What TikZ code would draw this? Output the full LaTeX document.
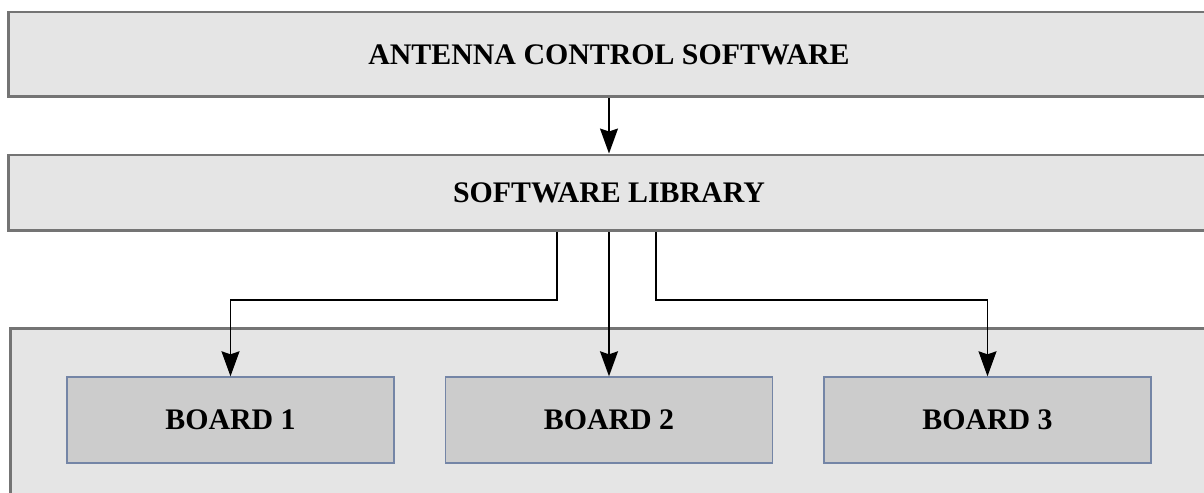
\documentclass[tikz,border=0pt]{standalone}
\usepackage{fontspec}
\setmainfont{Liberation Serif}
\usetikzlibrary{arrows.meta}

\definecolor{panelgray}{HTML}{E5E5E5}
\definecolor{edgegray}{HTML}{747474}
\definecolor{boardgray}{HTML}{CCCCCC}
\definecolor{boardedge}{HTML}{7485A6}

\tikzset{
  layer/.style={draw=edgegray, fill=panelgray, line width=1.7pt, inner sep=0pt,
    minimum width=24.04cm, font=\bfseries\fontsize{17}{20}\selectfont},
  board/.style={draw=boardedge, fill=boardgray, line width=0.8pt, inner sep=0pt,
    minimum width=6.54cm, minimum height=1.72cm, font=\bfseries\fontsize{17}{20}\selectfont},
  arr/.style={-{Stealth[length=0.5cm,width=0.36cm,inset=0.06cm]}, line width=0.8pt, black}
}

\begin{document}
\begin{tikzpicture}[x=0.02cm, y=-0.02cm]
                \useasboundingbox (0,0) rectangle (1204,493);

                \node[layer, minimum height=1.7cm] (acs) at (609,54.5) {ANTENNA CONTROL SOFTWARE};
                \node[layer, minimum height=1.52cm] (lib) at (609,193) {SOFTWARE LIBRARY};
                \node[layer, minimum width=24.2cm, minimum height=4cm] (rack) at (615,428) {};

                \node[board] (b1) at (230.5,420) {BOARD 1};
                \node[board] (b2) at (609,420) {BOARD 2};
                \node[board] (b3) at (987.5,420) {BOARD 3};

                \coordinate (j1) at (557,300);
                \coordinate (j3) at (656,300);

                \draw[arr] (acs) to (lib);
                \draw[arr] (lib) to (b2);
                \draw[arr] (lib.south -| j1) -- (j1) -| (b1.north);
                \draw[arr] (lib.south -| j3) -- (j3) -| (b3.north);
            \end{tikzpicture}
\end{document}
